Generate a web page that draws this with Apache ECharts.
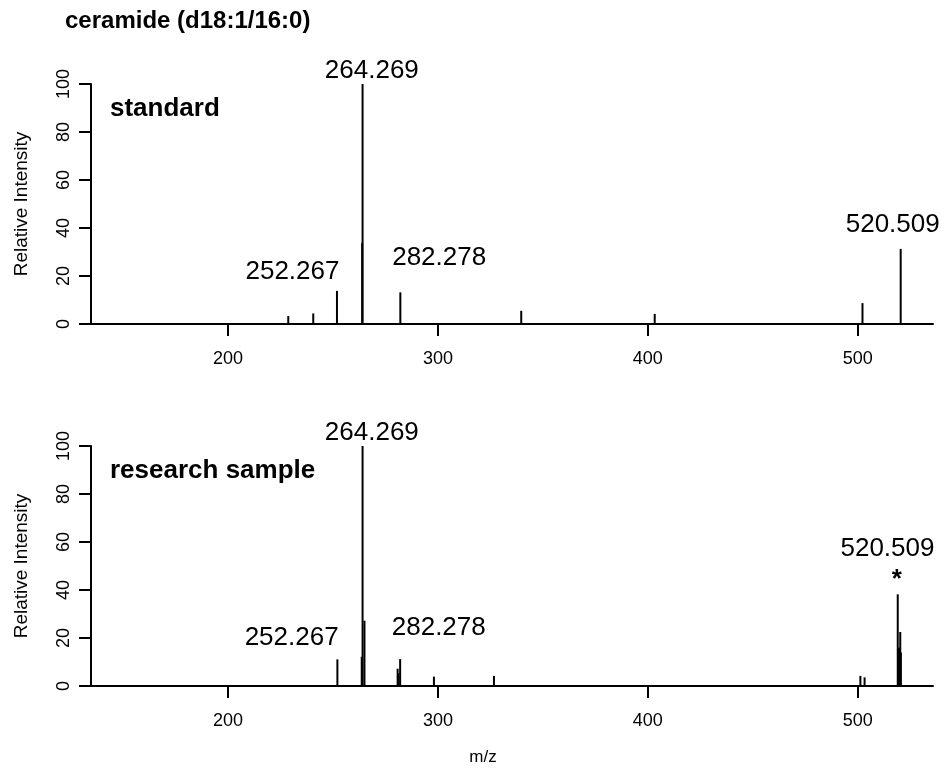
<!DOCTYPE html>
<html>
<head>
<meta charset="utf-8">
<script src="https://cdn.jsdelivr.net/npm/echarts@6/dist/echarts.min.js"></script>
<style>
  html, body { margin: 0; padding: 0; background: #fff; }
  #main { width: 947px; height: 770px; }
</style>
</head>
<body>
<div id="main"></div>
<script>
// standard spectrum
const stdMz = [228.7, 240.6, 251.9, 263.9, 264.1, 282.1, 339.7, 403.3, 502.3, 520.5]
const stdInt = [3.3, 4.4, 13.8, 33.7, 100, 13.2, 5.5, 4.2, 8.7, 31.3]

// research sample spectrum
const smpMz = [252.1, 263.7, 264.1, 265.0, 280.8, 281.2, 282.0, 298.1, 326.7, 501.3, 503.3, 519.1, 519.4, 519.7, 520.0, 520.3, 520.6]
const smpInt = [11.1, 12.2, 100, 27.2, 7.2, 5.4, 11.2, 3.9, 4.2, 4.2, 3.6, 38.2, 16, 15, 16, 22.5, 14]

// peak annotations (text, m/z, intensity where the text sits)
const stdLabels = ['264.269', '252.267', '282.278', '520.509']
const stdLabelMz = [268.5, 230.7, 300.6, 516.7]
const stdLabelY = [105.5, 21.6, 27.5, 41.3]

const smpLabels = ['264.269', '252.267', '282.278', '520.509']
const smpLabelMz = [268.5, 230.3, 300.4, 514.2]
const smpLabelY = [105.3, 20.0, 24.2, 57.2]

const xTicks = [200, 300, 400, 500]
const font = 'Liberation Sans, Arial, sans-serif'

const sticks = (xs, ys) => xs.map((x, i) => [x, ys[i]])
const notes = (txt, xs, ys) => txt.map((t, i) => [xs[i], ys[i], t])

function stickSeries(idx, data) {
  return {
    type: 'custom',
    xAxisIndex: idx,
    yAxisIndex: idx,
    data: data,
    clip: false,
    renderItem: function(params, api) {
      const top = api.coord([api.value(0), api.value(1)])
      const base = api.coord([api.value(0), 0])
      return {
        type: 'line',
        shape: { x1: top[0], y1: top[1], x2: base[0], y2: base[1] },
        style: { stroke: '#000', lineWidth: 2 }
      }
    }
  }
}

function noteSeries(idx, data, size, weight) {
  return {
    type: 'scatter',
    xAxisIndex: idx,
    yAxisIndex: idx,
    symbolSize: 0,
    clip: false,
    silent: true,
    itemStyle: { color: '#000', opacity: 1 },
    data: data,
    label: {
      show: true,
      position: 'inside',
      formatter: p => p.data[2],
      color: '#000',
      textBorderWidth: 0,
      fontFamily: font,
      fontSize: size,
      fontWeight: weight
    }
  }
}

function xAxisOpt(idx) {
  return {
    type: 'value',
    gridIndex: idx,
    min: 134.7,
    max: 535.9,
    axisLine: { lineStyle: { color: '#000', width: 2 } },
    axisTick: { customValues: xTicks, length: 12, lineStyle: { color: '#000', width: 2 } },
    axisLabel: { customValues: xTicks, margin: 26, color: '#000', fontFamily: font, fontSize: 18 },
    splitLine: { show: false }
  }
}

function yAxisOpt(idx) {
  return {
    type: 'value',
    gridIndex: idx,
    min: 0,
    max: 100,
    interval: 20,
    name: 'Relative Intensity',
    nameLocation: 'middle',
    nameGap: 60,
    nameTextStyle: { color: '#000', fontFamily: font, fontSize: 19 },
    axisLine: { show: true, lineStyle: { color: '#000', width: 2 } },
    axisTick: { show: true, length: 12, lineStyle: { color: '#000', width: 2 } },
    axisLabel: { rotate: 90, margin: 18, color: '#000', fontFamily: font, fontSize: 18 },
    splitLine: { show: false }
  }
}

const chart = echarts.init(document.getElementById('main'))

chart.setOption({
  animation: false,
  backgroundColor: '#fff',
  title: [
    { text: 'ceramide (d18:1/16:0)', left: 65, top: 9, padding: 0,
      textStyle: { color: '#000', fontFamily: font, fontSize: 24, fontWeight: 'bold' } },
    { text: 'standard', left: 110, top: 96, padding: 0,
      textStyle: { color: '#000', fontFamily: font, fontSize: 26, fontWeight: 'bold' } },
    { text: 'research sample', left: 110, top: 458, padding: 0,
      textStyle: { color: '#000', fontFamily: font, fontSize: 26, fontWeight: 'bold' } },
    { text: 'm/z', left: 483, top: 749, padding: 0, textAlign: 'center',
      textStyle: { color: '#000', fontFamily: font, fontSize: 17, fontWeight: 'normal' } }
  ],
  grid: [
    { left: 91, right: 14, top: 84, height: 240 },
    { left: 91, right: 14, top: 446, height: 240 }
  ],
  xAxis: [xAxisOpt(0), xAxisOpt(1)],
  yAxis: [yAxisOpt(0), yAxisOpt(1)],
  series: [
    stickSeries(0, sticks(stdMz, stdInt)),
    stickSeries(1, sticks(smpMz, smpInt)),
    noteSeries(0, notes(stdLabels, stdLabelMz, stdLabelY), 26, 'normal'),
    noteSeries(1, notes(smpLabels, smpLabelMz, smpLabelY), 26, 'normal'),
    noteSeries(1, [[518.6, 44.3, '*']], 26, 'bold')
  ]
})
</script>
</body>
</html>
